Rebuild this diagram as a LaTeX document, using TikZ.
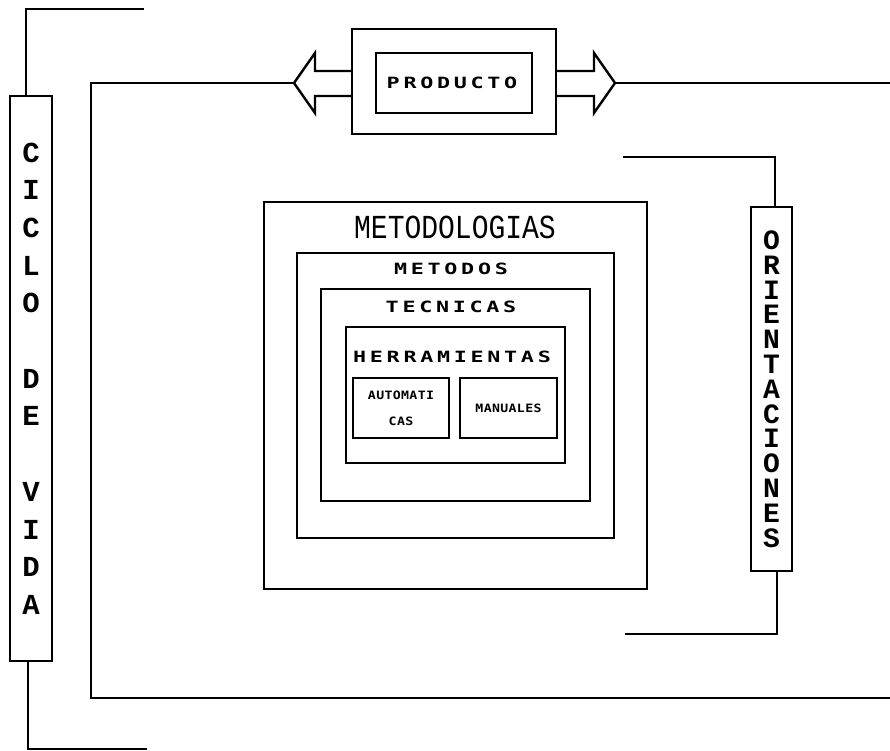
\documentclass[tikz,border=0pt]{standalone}
\usepackage{fontspec}
\usetikzlibrary{calc}
\newfontfamily\typefont{Liberation Mono}
\newfontfamily\plotfont[FakeStretch=1.4, LetterSpace=24]{DejaVu Sans Mono}
\newfontfamily\tagfont[FakeStretch=1.15, LetterSpace=3]{DejaVu Sans Mono}
\tikzset{
  blockbox/.style={draw=black, line width=2.6pt, inner sep=0pt},
  vbox/.style={draw=black, line width=2.4pt, inner sep=0pt, align=center},
  frame/.style={draw=black, line width=2.4pt, line join=miter},
  link/.style={draw=black, line width=2pt},
  biglabel/.style={font=\typefont\fontsize{28}{28}\selectfont, inner sep=0pt},
  plotlabel/.style={font=\plotfont\bfseries\fontsize{15.5}{15.5}\selectfont, inner sep=0pt},
  smalllabel/.style={font=\tagfont\bfseries\fontsize{11.5}{26}\selectfont,
                     inner sep=0pt, align=center}}
\begin{document}
\begin{tikzpicture}[x=1pt, y=-1pt]
  \useasboundingbox (0,0) rectangle (890,751);
  \fill[white] (0,0) rectangle (890,751);

  \node[blockbox, minimum width=204, minimum height=105] (prodout) at (454,81.5) {};
  \node[blockbox, minimum width=156, minimum height=60] (prodin) at (454,83) {};
  \node[plotlabel] (tprod) at (452,83) {PRODUCTO};

  \draw[frame] (352,71) -- (315,71) -- (315,53) -- (294,83) coordinate (ltip)
    -- (315,113) -- (315,96) -- (352,96);
  \draw[frame] (556,71) -- (594,71) -- (594,53) -- (615,83) coordinate (rtip)
    -- (594,113) -- (594,96) -- (556,96);
  \coordinate (frbot) at (890,698);
  \coordinate (frtop) at (890,83);
  \draw[frame] (ltip) -| (frbot -| 91,0) -- (frbot);
  \draw[frame] (rtip) -- (frtop);

  \node[vbox, minimum width=42, minimum height=565,
        font=\typefont\bfseries\fontsize{29}{37.7}\selectfont] (ciclo) at (31,378.5)
    {C\\I\\C\\L\\O\\~\\D\\E\\~\\V\\I\\D\\A};
  \coordinate (ctop) at (144,9);
  \coordinate (cbot) at (147,749);
  \draw[link] ([xshift=-5pt]ciclo.north) |- (ctop);
  \draw[link] ([xshift=-3pt]ciclo.south) |- (cbot);

  \node[vbox, minimum width=41, minimum height=364,
        font=\typefont\bfseries\fontsize{28}{24.8}\selectfont] (orient) at (771.5,389)
    {O\\R\\I\\E\\N\\T\\A\\C\\I\\O\\N\\E\\S};
  \coordinate (otop) at (623,157);
  \coordinate (obot) at (625,634);
  \draw[link] ([xshift=3pt]orient.north) |- (otop);
  \draw[link] ([xshift=5pt]orient.south) |- (obot);

  \node[blockbox, minimum width=383, minimum height=387] (metodologias) at (455.5,395.5) {};
  \node[blockbox, minimum width=317, minimum height=285] (metodos) at (455.5,395.5) {};
  \node[blockbox, minimum width=269, minimum height=212] (tecnicas) at (455.5,395) {};
  \node[blockbox, minimum width=219, minimum height=136] (herramientas) at (455.5,395) {};
  \node[blockbox, minimum width=96, minimum height=60] (automaticas) at (401,408) {};
  \node[blockbox, minimum width=97, minimum height=60] (manuales) at (508.5,408) {};

  \node[biglabel] (tmetodologias) at (455,227) {\scalebox{1}[1.2]{METODOLOGIAS}};
  \node[plotlabel] (tmetodos) at (451,269) {METODOS};
  \node[plotlabel] (ttecnicas) at (451,307) {TECNICAS};
  \node[plotlabel] (therramientas) at (452,357) {HERRAMIENTAS};
  \node[smalllabel] (tautomaticas) at (401,408) {AUTOMATI\\CAS};
  \node[smalllabel] (tmanuales) at (508.5,408) {MANUALES};
\end{tikzpicture}
\end{document}
